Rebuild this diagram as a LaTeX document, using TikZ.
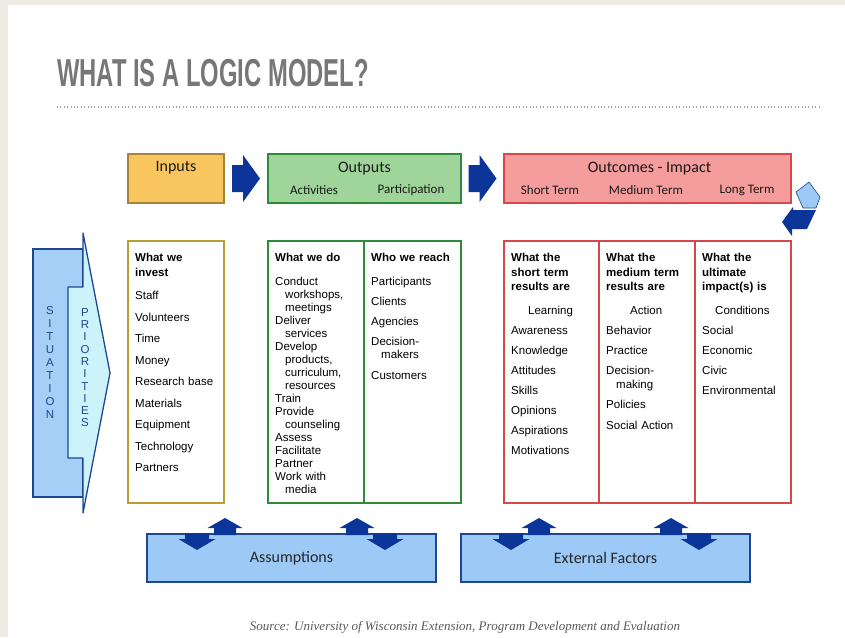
\documentclass[tikz,border=0pt]{standalone}
\usepackage{fontspec}
\setsansfont{Liberation Sans}
\newfontfamily\headfont{Carlito}
\newfontfamily\titlefont[FakeStretch=0.61]{Liberation Sans}
\newfontfamily\sourcefont{Liberation Serif}
\usetikzlibrary{calc,positioning}

\definecolor{slidebg}{HTML}{EEEBE3}
\definecolor{titlegray}{HTML}{777777}
\definecolor{inputfill}{HTML}{F9C55E}
\definecolor{inputline}{HTML}{A8843A}
\definecolor{outputfill}{HTML}{9FD49B}
\definecolor{outputline}{HTML}{2F8A3A}
\definecolor{outcomefill}{HTML}{F59C9C}
\definecolor{outcomeline}{HTML}{D8474A}
\definecolor{arrowblue}{HTML}{0B3599}
\definecolor{factorfill}{HTML}{9CC9F5}
\definecolor{factorline}{HTML}{1E4792}
\definecolor{sitfill}{HTML}{A6CFF7}
\definecolor{prifill}{HTML}{CDF3FA}

\newcommand{\wrapind}{\hspace*{10pt}}

\begin{document}
\begin{tikzpicture}[x=1pt,y=-1pt,
    topbox/.style={rectangle,draw,line width=1.6pt,anchor=north west,inner sep=0pt,outer sep=0pt,
                   minimum height=49pt},
    colbox/.style={rectangle,draw,line width=1.6pt,anchor=north west,inner sep=0pt,outer sep=0pt,
                   minimum height=262pt},
    factorbox/.style={rectangle,draw=factorline,fill=factorfill,line width=1.6pt,anchor=north west,
                   inner sep=0pt,outer sep=0pt,minimum width=289pt,minimum height=48pt,
                   font=\headfont\fontsize{16}{18}\selectfont,text=black!85},
    headtext/.style={inner sep=0pt,font=\headfont\fontsize{16}{18}\selectfont,text=black!90},
    subtext/.style={inner sep=0pt,font=\headfont\fontsize{13}{15}\selectfont,text=black!90},
    listtext/.style={anchor=north west,inner sep=0pt,text width=92pt,align=left,
                   font=\sffamily\fontsize{11.5}{13}\selectfont},
    vletter/.style={inner sep=0pt,font=\sffamily\fontsize{11.5}{12}\selectfont,text=factorline},
    blockarrow/.pic={\fill[arrowblue] (-14,-13.5) -- (-3,-13.5) -- (-3,-23.5) -- (14,0)
                   -- (-3,23.5) -- (-3,13.5) -- (-14,13.5) -- cycle;},
    uparr/.pic={\fill[arrowblue] (-11,1) -- (-11,-6) -- (-17.5,-6) -- (0,-16)
                   -- (17.5,-6) -- (11,-6) -- (11,1) -- cycle;},
    downarr/.pic={\fill[arrowblue] (-12,-1) -- (-12,5) -- (-18.5,5) -- (0,16)
                   -- (18.5,5) -- (12,5) -- (12,-1) -- cycle;}
  ]
  \useasboundingbox (0,0) rectangle (845,637);

  % Slide
  \fill[slidebg] (0,0) rectangle (845,637);
  \fill[white] (8,5) rectangle (845,637);

  % Title and rule
  \node[anchor=base west,inner sep=0pt,font=\titlefont\bfseries\fontsize{39}{40}\selectfont,
        text=titlegray] (title) at (57,86) {WHAT IS A LOGIC MODEL?};
  \draw[titlegray!70,line width=1.3pt,dash pattern=on 0.8pt off 2.6pt]
    ($(title.base west)+(0,21)$) -- +(765,0);

  % Header boxes
  \node[topbox,fill=inputfill,draw=inputline,minimum width=96pt] (inputs) at (128,154) {};
  \node[topbox,fill=outputfill,draw=outputline,minimum width=193pt] (outputs) at (268,154) {};
  \node[topbox,fill=outcomefill,draw=outcomeline,minimum width=287pt] (outcomes) at (504,154) {};

  \node[headtext] at ($(inputs.north)+(0,14)$) {Inputs};
  \node[headtext] at ($(outputs.north)+(0,15)$) {Outputs};
  \node[subtext] at (314,190) {Activities};
  \node[subtext] at (411,190) {Participation};
  \node[headtext] at ($(outcomes.north)+(2,15)$) {Outcomes - Impact};
  \node[subtext] at (550,190) {Short Term};
  \node[subtext] at (646,190) {Medium Term};
  \node[subtext] at (747,190) {Long Term};

  \pic at ($(inputs.east)!.5!(outputs.west)$) {blockarrow};
  \pic at ($(outputs.east)!.5!(outcomes.west)$) {blockarrow};

  % Feedback loop
  \filldraw[fill=factorfill,draw=factorline,line width=0.6pt,line join=round]
    (796,192) -- (809,182) -- (820,197) -- (816,208) -- (803,208) -- cycle;
  \fill[arrowblue] (782,222) -- (793,207) -- (793,210) -- (816,210) -- (807,229)
    -- (792,229) -- (792,236) -- cycle;

  % Situation / priorities
  \draw[line width=1.3pt,draw=factorline,fill=sitfill] (33,249) rectangle (83,497);
  \filldraw[line width=1.3pt,draw=factorline,fill=prifill,line join=round]
    (68,287) -- (83,287) -- (83,233) -- (110,373) -- (83,513) -- (83,458) -- (68,458) -- cycle;
  \foreach \ch [count=\i] in {S,I,T,U,A,T,I,O,N}
    \node[vletter] at (50,298+13*\i) {\ch};
  \foreach \ch [count=\i] in {P,R,I,O,R,I,T,I,E,S}
    \node[vletter] at (85,300+12.3*\i) {\ch};

  % Columns
  \node[colbox,draw=inputline!80!yellow,minimum width=96pt] (invest) at (128,241) {};
  \node[colbox,draw=outputline,minimum width=96pt] (dowhat) at (268,241) {};
  \node[colbox,draw=outputline,minimum width=97pt] (reach) at (364,241) {};
  \node[colbox,draw=outcomeline,minimum width=95pt] (shortterm) at (504,241) {};
  \node[colbox,draw=outcomeline,minimum width=96pt] (midterm) at (599,241) {};
  \node[colbox,draw=outcomeline,minimum width=96pt] (longterm) at (695,241) {};

  \node[listtext] (investlist) at ($(invest.north west)+(7,12)$)
    {\textbf{What we}\\[2pt]\textbf{invest}\\[10pt]Staff\\[8.5pt]Volunteers\\[8.5pt]Time\\[8.5pt]Money\\[8.5pt]Research base\\[8.5pt]Materials\\[8.5pt]Equipment\\[8.5pt]Technology\\[8.5pt]Partners};
  \node[listtext] (dowhatlist) at ($(dowhat.north west)+(7,12)$)
    {\textbf{What we do}\\[11pt]Conduct\\\wrapind workshops,\\\wrapind meetings\\Deliver\\\wrapind services\\Develop\\\wrapind products,\\\wrapind curriculum,\\\wrapind resources\\Train\\Provide\\\wrapind counseling\\Assess\\Facilitate\\Partner\\Work with\\\wrapind media};
  \node[listtext] (reachlist) at ($(reach.north west)+(7,12)$)
    {\textbf{Who we reach}\\[11pt]Participants\\[7pt]Clients\\[7pt]Agencies\\[7pt]Decision-\\\wrapind makers\\[8pt]Customers};
  \node[listtext] (shortlist) at ($(shortterm.north west)+(7,12)$)
    {\textbf{What the}\\[1.5pt]\textbf{short term}\\[1.5pt]\textbf{results are}\\[11pt]\hspace*{17pt}Learning\\[7pt]Awareness\\[7pt]Knowledge\\[7pt]Attitudes\\[7pt]Skills\\[7pt]Opinions\\[7pt]Aspirations\\[7pt]Motivations};
  \node[listtext] (midlist) at ($(midterm.north west)+(7,12)$)
    {\textbf{What the}\\[1.5pt]\textbf{medium term}\\[1.5pt]\textbf{results are}\\[11pt]\hspace*{24pt}Action\\[7pt]Behavior\\[7pt]Practice\\[7pt]Decision-\\[1pt]\wrapind making\\[7pt]Policies\\[7.5pt]Social Action};
  \node[listtext] (longlist) at ($(longterm.north west)+(7,12)$)
    {\textbf{What the}\\[1.5pt]\textbf{ultimate}\\[1.5pt]\textbf{impact(s) is}\\[11pt]\hspace*{13pt}Conditions\\[7pt]Social\\[7pt]Economic\\[7pt]Civic\\[7pt]Environmental};

  % Assumptions and external factors
  \node[factorbox] (assume) at (147,534) {Assumptions};
  \node[factorbox] (extern) at (461,534) {External Factors};
  \foreach \b in {assume,extern} {
    \pic at ($(\b.north west)+(50,0)$) {downarr};
    \pic at ($(\b.north west)+(78,0)$) {uparr};
    \pic at ($(\b.north west)+(210,0)$) {uparr};
    \pic at ($(\b.north west)+(238,0)$) {downarr};
  }

  % Source
  \node[font=\sourcefont\itshape\fontsize{13}{15}\selectfont,text=black!65] (source) at (465,627)
    {Source: University of Wisconsin Extension, Program Development and Evaluation};
\end{tikzpicture}
\end{document}
